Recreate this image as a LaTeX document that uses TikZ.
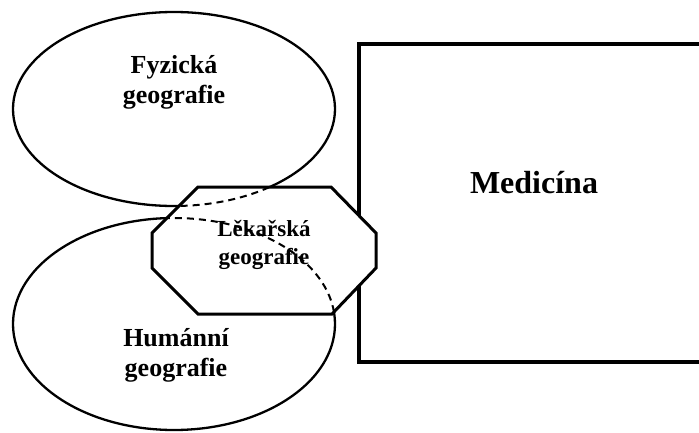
\documentclass[tikz,border=0pt]{standalone}
\usepackage{fontspec}
\setmainfont{Liberation Serif}
\usetikzlibrary{shapes.geometric}
\begin{document}
\begin{tikzpicture}[x=1pt,y=-1pt,
  ell/.style={ellipse, draw, line width=2.3pt, minimum width=322pt, minimum height=194pt, inner sep=0pt},
  lbl/.style={align=center, font=\bfseries\fontsize{26}{30}\selectfont, inner sep=0pt},
  hid/.style={draw, line width=2pt, dash pattern=on 7pt off 5pt}]
\clip (0,0) rectangle (699,432);
\fill[white] (0,0) rectangle (699,432);
% Medicine box
\node[draw, line width=4.3pt, minimum width=360pt, minimum height=318pt, anchor=north west, inner sep=0pt] (med) at (357,42) {};
% ellipses
\node[ell] (fyz) at (174,109) {};
\node[ell, minimum height=212pt] (hum) at (174,324) {};
% octagon
\def\octpath{(198,187) -- (331,187) -- (376,233) -- (376,268) -- (332,314) -- (198,314) -- (152,268) -- (152,233) -- cycle}
\fill[white] \octpath;
\begin{scope}
  \clip \octpath;
  \node[ell, hid] at (fyz.center) {};
  \node[ell, hid, minimum height=212pt] at (hum.center) {};
\end{scope}
\draw[line width=3pt, line join=miter] \octpath;
% labels
\node[lbl] (tfyz) at (174,82) {Fyzická\\geografie};
\node[lbl] (thum) at (176,355) {Humánní\\geografie};
\node[lbl, font=\bfseries\fontsize{23}{28}\selectfont] (tlek) at (264,245) {Lěkařská\\geografie};
\node[font=\bfseries\fontsize{32}{36}\selectfont, anchor=base, inner sep=0pt] (tmed) at (534,193) {Medicína};
\end{tikzpicture}
\end{document}
